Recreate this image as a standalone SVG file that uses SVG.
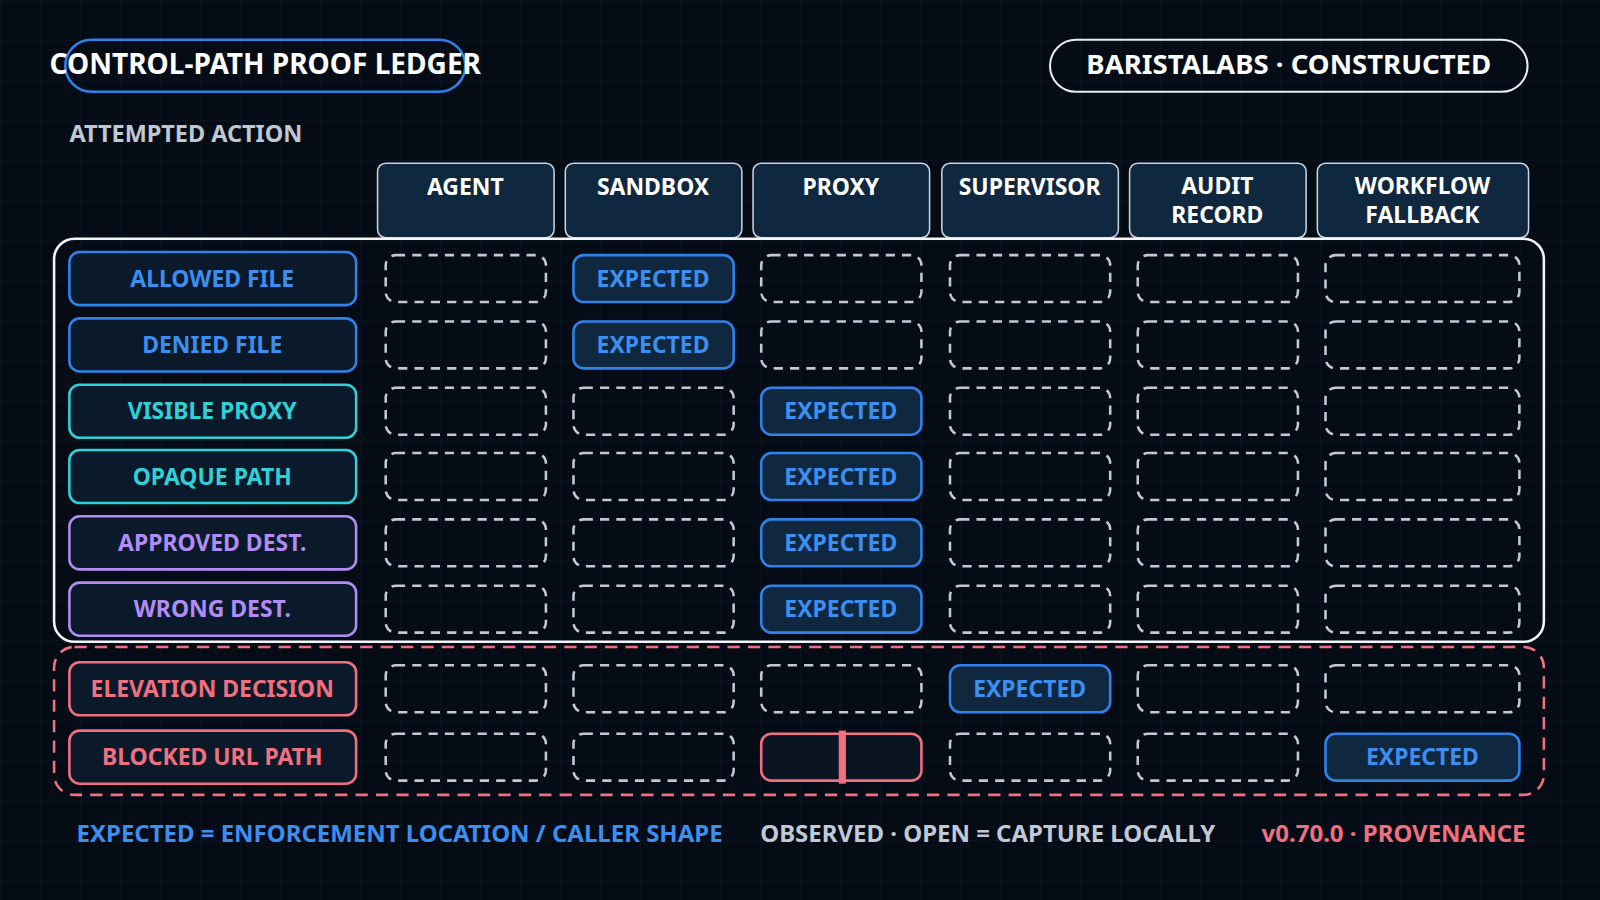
<svg xmlns="http://www.w3.org/2000/svg" width="1600" height="900" viewBox="0 0 1600 900">
<defs>
<pattern id="grid" width="40" height="40" patternUnits="userSpaceOnUse"><path d="M40 0H0V40" fill="none" stroke="#0e1a28" stroke-width="1"/></pattern>
</defs>
<style>
text{font-family:"Noto Sans","Open Sans",sans-serif;font-weight:700;text-anchor:middle}
.hdr rect{fill:#10283f;stroke:#c8d4e0;stroke-width:1.5}
.hdr text{fill:#ffffff;font-size:22.5px}
.lbl{fill:#0b1a2a;stroke-width:2.5}
.lt{font-size:22.5px}
.open{fill:none;stroke:#c0cad6;stroke-width:2.5;stroke-dasharray:9 7}
.exp{fill:#10283f;stroke:#2f82ea;stroke-width:2.5}
.et{fill:#3b8ff0;font-size:22.5px}
</style>
<rect width="1600" height="900" fill="#050c16"/>
<rect width="1600" height="900" fill="url(#grid)"/>
<g transform="scale(1.0204)">
<g id="title">
<rect x="64" y="39" width="392" height="51" rx="25.5" fill="none" stroke="#2f82ea" stroke-width="2.5"/>
<text x="260" y="73" fill="#ffffff" font-size="27.5">CONTROL-PATH PROOF LEDGER</text>
</g>
<g id="brand">
<rect x="1029" y="39" width="468" height="51" rx="25.5" fill="none" stroke="#e8edf3" stroke-width="2"/>
<text x="1263" y="73" fill="#ffffff" font-size="27">BARISTALABS · CONSTRUCTED</text>
</g>
<text x="68" y="139" fill="#c0c8d4" font-size="23" style="text-anchor:start">ATTEMPTED ACTION</text>
<g id="headers" class="hdr">
<rect x="370" y="160" width="173" height="73" rx="8"/><text x="456" y="191">AGENT</text>
<rect x="554" y="160" width="173" height="73" rx="8"/><text x="640" y="191">SANDBOX</text>
<rect x="738" y="160" width="173" height="73" rx="8"/><text x="824" y="191">PROXY</text>
<rect x="923" y="160" width="173" height="73" rx="8"/><text x="1009" y="191">SUPERVISOR</text>
<rect x="1107" y="160" width="173" height="73" rx="8"/><text x="1193" y="190">AUDIT</text><text x="1193" y="219">RECORD</text>
<rect x="1291" y="160" width="207" height="73" rx="8"/><text x="1394" y="190">WORKFLOW</text><text x="1394" y="219">FALLBACK</text>
</g>
<g id="frames">
<rect x="53" y="234" width="1460" height="395" rx="20" fill="none" stroke="#f2f5f8" stroke-width="2.5"/>
<rect x="53" y="634" width="1460" height="145" rx="20" fill="none" stroke="#f07080" stroke-width="2.5" stroke-dasharray="12 8"/>
</g>
<g id="row-labels">
<g id="r1"><rect class="lbl" x="68" y="247" width="281" height="52" rx="10" stroke="#2f82ea"/><text class="lt" x="208" y="281" fill="#3b8ff0">ALLOWED FILE</text></g>
<g id="r2"><rect class="lbl" x="68" y="312" width="281" height="52" rx="10" stroke="#2f82ea"/><text class="lt" x="208" y="346" fill="#3b8ff0">DENIED FILE</text></g>
<g id="r3"><rect class="lbl" x="68" y="377" width="281" height="52" rx="10" stroke="#2ed1d8"/><text class="lt" x="208" y="411" fill="#2ed1d8">VISIBLE PROXY</text></g>
<g id="r4"><rect class="lbl" x="68" y="441" width="281" height="52" rx="10" stroke="#2ed1d8"/><text class="lt" x="208" y="475" fill="#2ed1d8">OPAQUE PATH</text></g>
<g id="r5"><rect class="lbl" x="68" y="506" width="281" height="52" rx="10" stroke="#b28cf5"/><text class="lt" x="208" y="540" fill="#b28cf5">APPROVED DEST.</text></g>
<g id="r6"><rect class="lbl" x="68" y="571" width="281" height="52" rx="10" stroke="#b28cf5"/><text class="lt" x="208" y="605" fill="#b28cf5">WRONG DEST.</text></g>
<g id="r7"><rect class="lbl" x="68" y="649" width="281" height="52" rx="10" stroke="#f07080"/><text class="lt" x="208" y="683" fill="#f07080">ELEVATION DECISION</text></g>
<g id="r8"><rect class="lbl" x="68" y="716" width="281" height="52" rx="10" stroke="#f07080"/><text class="lt" x="208" y="750" fill="#f07080">BLOCKED URL PATH</text></g>
</g>
<g id="cells">
<rect class="open" x="378" y="250" width="157" height="46" rx="10"/>
<rect class="exp" x="562" y="250" width="157" height="46" rx="10"/><text class="et" x="640" y="281">EXPECTED</text>
<rect class="open" x="746" y="250" width="157" height="46" rx="10"/>
<rect class="open" x="931" y="250" width="157" height="46" rx="10"/>
<rect class="open" x="1115" y="250" width="157" height="46" rx="10"/>
<rect class="open" x="1299" y="250" width="190" height="46" rx="10"/>
<rect class="open" x="378" y="315" width="157" height="46" rx="10"/>
<rect class="exp" x="562" y="315" width="157" height="46" rx="10"/><text class="et" x="640" y="346">EXPECTED</text>
<rect class="open" x="746" y="315" width="157" height="46" rx="10"/>
<rect class="open" x="931" y="315" width="157" height="46" rx="10"/>
<rect class="open" x="1115" y="315" width="157" height="46" rx="10"/>
<rect class="open" x="1299" y="315" width="190" height="46" rx="10"/>
<rect class="open" x="378" y="380" width="157" height="46" rx="10"/>
<rect class="open" x="562" y="380" width="157" height="46" rx="10"/>
<rect class="exp" x="746" y="380" width="157" height="46" rx="10"/><text class="et" x="824" y="411">EXPECTED</text>
<rect class="open" x="931" y="380" width="157" height="46" rx="10"/>
<rect class="open" x="1115" y="380" width="157" height="46" rx="10"/>
<rect class="open" x="1299" y="380" width="190" height="46" rx="10"/>
<rect class="open" x="378" y="444" width="157" height="46" rx="10"/>
<rect class="open" x="562" y="444" width="157" height="46" rx="10"/>
<rect class="exp" x="746" y="444" width="157" height="46" rx="10"/><text class="et" x="824" y="475">EXPECTED</text>
<rect class="open" x="931" y="444" width="157" height="46" rx="10"/>
<rect class="open" x="1115" y="444" width="157" height="46" rx="10"/>
<rect class="open" x="1299" y="444" width="190" height="46" rx="10"/>
<rect class="open" x="378" y="509" width="157" height="46" rx="10"/>
<rect class="open" x="562" y="509" width="157" height="46" rx="10"/>
<rect class="exp" x="746" y="509" width="157" height="46" rx="10"/><text class="et" x="824" y="540">EXPECTED</text>
<rect class="open" x="931" y="509" width="157" height="46" rx="10"/>
<rect class="open" x="1115" y="509" width="157" height="46" rx="10"/>
<rect class="open" x="1299" y="509" width="190" height="46" rx="10"/>
<rect class="open" x="378" y="574" width="157" height="46" rx="10"/>
<rect class="open" x="562" y="574" width="157" height="46" rx="10"/>
<rect class="exp" x="746" y="574" width="157" height="46" rx="10"/><text class="et" x="824" y="605">EXPECTED</text>
<rect class="open" x="931" y="574" width="157" height="46" rx="10"/>
<rect class="open" x="1115" y="574" width="157" height="46" rx="10"/>
<rect class="open" x="1299" y="574" width="190" height="46" rx="10"/>
<rect class="open" x="378" y="652" width="157" height="46" rx="10"/>
<rect class="open" x="562" y="652" width="157" height="46" rx="10"/>
<rect class="open" x="746" y="652" width="157" height="46" rx="10"/>
<rect class="exp" x="931" y="652" width="157" height="46" rx="10"/><text class="et" x="1009" y="683">EXPECTED</text>
<rect class="open" x="1115" y="652" width="157" height="46" rx="10"/>
<rect class="open" x="1299" y="652" width="190" height="46" rx="10"/>
<rect class="open" x="378" y="719" width="157" height="46" rx="10"/>
<rect class="open" x="562" y="719" width="157" height="46" rx="10"/>
<rect x="746" y="719" width="157" height="46" rx="10" fill="#0b1522" stroke="#f07080" stroke-width="2.5"/>
<rect x="822" y="716" width="7" height="52" fill="#f07080"/>
<rect class="open" x="931" y="719" width="157" height="46" rx="10"/>
<rect class="open" x="1115" y="719" width="157" height="46" rx="10"/>
<rect class="exp" x="1299" y="719" width="190" height="46" rx="10"/><text class="et" x="1394" y="750">EXPECTED</text>
</g>
<g id="legend">
<text x="75" y="825" fill="#3b8ff0" style="text-anchor:start;font-size:23.5px">EXPECTED = ENFORCEMENT LOCATION / CALLER SHAPE</text>
<text x="745" y="825" fill="#c0cad6" style="text-anchor:start;font-size:23.5px">OBSERVED · OPEN = CAPTURE LOCALLY</text>
<text x="1495" y="825" fill="#f07080" style="text-anchor:end;font-size:23.5px">v0.70.0 · PROVENANCE</text>
</g>
</g>
</svg>
